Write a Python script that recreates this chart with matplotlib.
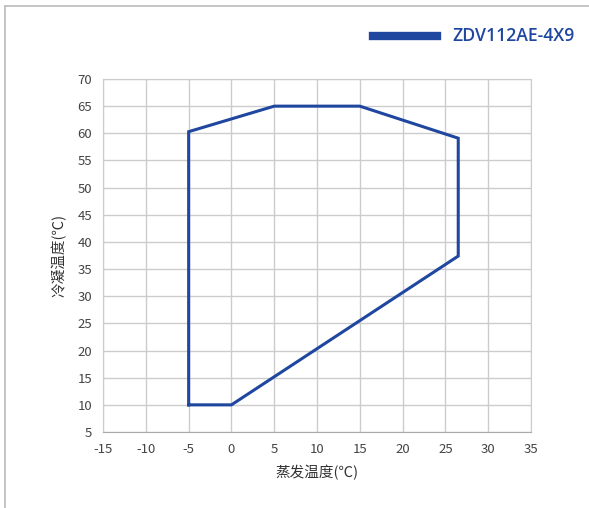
import matplotlib
matplotlib.use("Agg")
import matplotlib.pyplot as plt
from matplotlib.lines import Line2D

plt.rcParams['font.family'] = ['Noto Sans CJK SC', 'DejaVu Sans']
plt.rcParams['axes.unicode_minus'] = False

evap = [-5, -5, 5, 15, 26.5, 26.5, 0, -5]
cond = [10, 60.3, 65, 65, 59.1, 37.4, 10, 10]
series_name = "ZDV112AE-4X9"
xticks = list(range(-15, 40, 5))
yticks = list(range(5, 75, 5))

color = "#1f47a0"
fig = plt.figure(figsize=(5.89, 5.08), dpi=100)
ax = fig.add_axes([0.175, 0.1496, 0.7265, 0.6949])
ax.plot(evap, cond, color=color, lw=2.2, solid_joinstyle='miter')
ax.set_xlim(-15, 35)
ax.set_ylim(5, 70)
ax.set_xticks(xticks)
ax.set_yticks(yticks)
ax.set_xticklabels([str(v) for v in xticks])
ax.grid(True, color="#cccccc", lw=1)
ax.set_axisbelow(True)
for s in ax.spines.values():
    s.set_color("#cccccc")
ax.spines['bottom'].set_color("#aaaaaa")
ax.tick_params(axis='both', labelcolor="#444444", labelsize=9.5, length=0)
ax.tick_params(axis='y', pad=8)
ax.tick_params(axis='x', pad=8)
ax.set_xlabel("蒸发温度(℃)", fontsize=10.5, color="#333333", labelpad=6)
ax.set_ylabel("冷凝温度(℃)", fontsize=10.5, color="#333333", labelpad=8)

fig.add_artist(Line2D([373/589, 437/589], [1-36/508, 1-36/508], color=color, lw=6))
fig.text(452/589, 1-36/508, series_name, color=color, fontsize=12.7, fontweight='semibold',
         va='center', ha='left', family=['Open Sans', 'DejaVu Sans'])

fig.add_artist(Line2D([5/589, 1], [1-6/508, 1-6/508], color="#bbbbbb", lw=1.2))
fig.add_artist(Line2D([5/589, 5/589], [0, 1-6/508], color="#bbbbbb", lw=1.2))

fig.savefig("out.png", dpi=100, facecolor="white")
